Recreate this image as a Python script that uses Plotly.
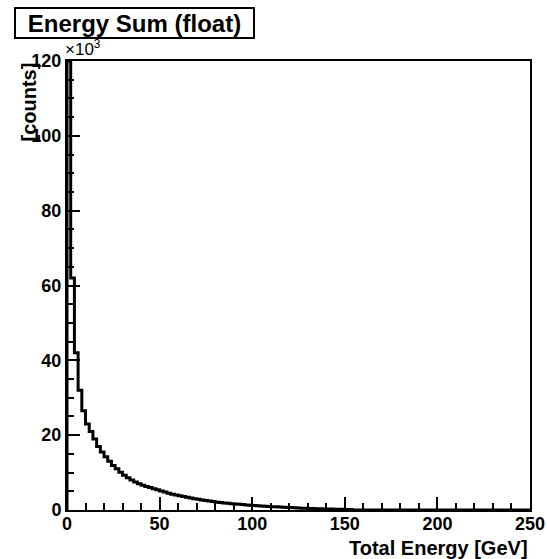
import numpy as np
import plotly.graph_objects as go

# ---- data (counts in units of 10^3, 2 GeV bins from 0 to 250 GeV) ----
bin_width = 2.0
counts_k = [
    260.0, 62.0, 42.0, 32.0, 26.5, 23.0, 21.0, 19.0, 17.0, 15.5,
    14.2, 13.0, 11.9, 11.0, 10.1, 9.3, 8.6, 8.0, 7.5, 7.0,
    6.6, 6.3, 6.0, 5.7, 5.4, 5.1, 4.8, 4.5, 4.2, 4.0,
    3.8, 3.6, 3.4, 3.2, 3.0, 2.85, 2.7, 2.55, 2.4, 2.25,
    2.1, 2.0, 1.9, 1.8, 1.7, 1.6, 1.55, 1.45, 1.35, 1.3,
    1.2, 1.15, 1.1, 1.0, 0.95, 0.9, 0.85, 0.8, 0.75, 0.7,
    0.65, 0.6, 0.55, 0.5, 0.45, 0.42, 0.38, 0.35, 0.32, 0.3,
    0.27, 0.25, 0.22, 0.2, 0.18, 0.15, 0.12, 0.0, 0.0, 0.0,
    0.0, 0.0, 0.0, 0.0, 0.0, 0.0, 0.0, 0.0, 0.0, 0.0,
    0.0, 0.0, 0.0, 0.0, 0.0, 0.0, 0.0, 0.0, 0.0, 0.0,
    0.0, 0.0, 0.0, 0.0, 0.0, 0.0, 0.0, 0.0, 0.0, 0.0,
    0.0, 0.0, 0.0, 0.0, 0.0, 0.0, 0.0, 0.0, 0.0, 0.0,
    0.0, 0.0, 0.0, 0.0, 0.0,
]
x_range = [0, 250]
y_range = [0, 120]
x_ticks = [0, 50, 100, 150, 200, 250]
y_ticks = [0, 20, 40, 60, 80, 100, 120]
title_text = "Energy Sum (float)"
x_title = "Total Energy [GeV]"
y_title = "[counts]"

# ---- build step outline (ROOT style, clipped at frame top) ----
vals = np.minimum(np.array(counts_k), y_range[1])
edges = np.arange(len(vals) + 1) * bin_width
xs = np.concatenate([[edges[0]], edges[:-1], [edges[-1]]])
ys = np.concatenate([[0.0], vals, [vals[-1]]])

fig = go.Figure()
fig.add_trace(go.Scatter(x=xs, y=ys, mode="lines", line=dict(color="black", width=3, shape="hv"),
                         showlegend=False, hoverinfo="skip"))

L, R, T, B = 67, 17, 61, 49
W, H = 547, 559
pw, ph = W - L - R, H - T - B

def px2paper_x(px):
    return (px - L) / pw

def px2paper_y(py):
    return (H - B - py) / ph

FONT = "Liberation Sans, Arial, sans-serif"
axis_common = dict(
    showline=True, linewidth=2, linecolor="black", mirror=True,
    showgrid=False, zeroline=False, automargin=False,
    ticks="inside", ticklen=13, tickwidth=2, tickcolor="black",
    tickfont=dict(family=FONT, size=18, color="black", weight="bold"),
)
fig.update_layout(
    width=W, height=H,
    margin=dict(l=L, r=R, t=T, b=B, autoexpand=False),
    paper_bgcolor="white", plot_bgcolor="white",
    xaxis=dict(range=x_range, tickvals=x_ticks, ticktext=[str(v) for v in x_ticks],
               minor=dict(dtick=10, ticks="inside", ticklen=7, tickwidth=2, tickcolor="black"),
               ticklabelstandoff=-4,
               **axis_common),
    yaxis=dict(range=y_range, tickvals=y_ticks, ticktext=[str(v) for v in y_ticks],
               minor=dict(dtick=5, ticks="inside", ticklen=7, tickwidth=2, tickcolor="black"),
               ticklabelstandoff=0,
               **axis_common),
)

fig.add_annotation(
    xref="paper", yref="paper", x=px2paper_x(14), y=px2paper_y(7),
    xanchor="left", yanchor="top", showarrow=False,
    text="<b>" + title_text + "</b>", font=dict(family=FONT, size=24, color="black"),
    bordercolor="black", borderwidth=2, bgcolor="white", borderpad=0,
    width=237, height=28, align="center",
)
fig.add_annotation(
    xref="paper", yref="paper", x=px2paper_x(63), y=px2paper_y(61),
    xanchor="left", yanchor="bottom", showarrow=False,
    text="×10<sup>3</sup>", font=dict(family=FONT, size=17, color="black"),
)
fig.add_annotation(
    xref="paper", yref="paper", x=px2paper_x(28), y=px2paper_y(61),
    xanchor="center", yanchor="top", showarrow=False, textangle=-90,
    text="<b>" + y_title + "</b>", font=dict(family=FONT, size=20, color="black"),
)
fig.add_annotation(
    xref="paper", yref="paper", x=1.0, y=px2paper_y(535),
    xanchor="right", yanchor="top", showarrow=False,
    text="<b>" + x_title + "</b>", font=dict(family=FONT, size=20, color="black"),
)

fig.write_html("out.html")
